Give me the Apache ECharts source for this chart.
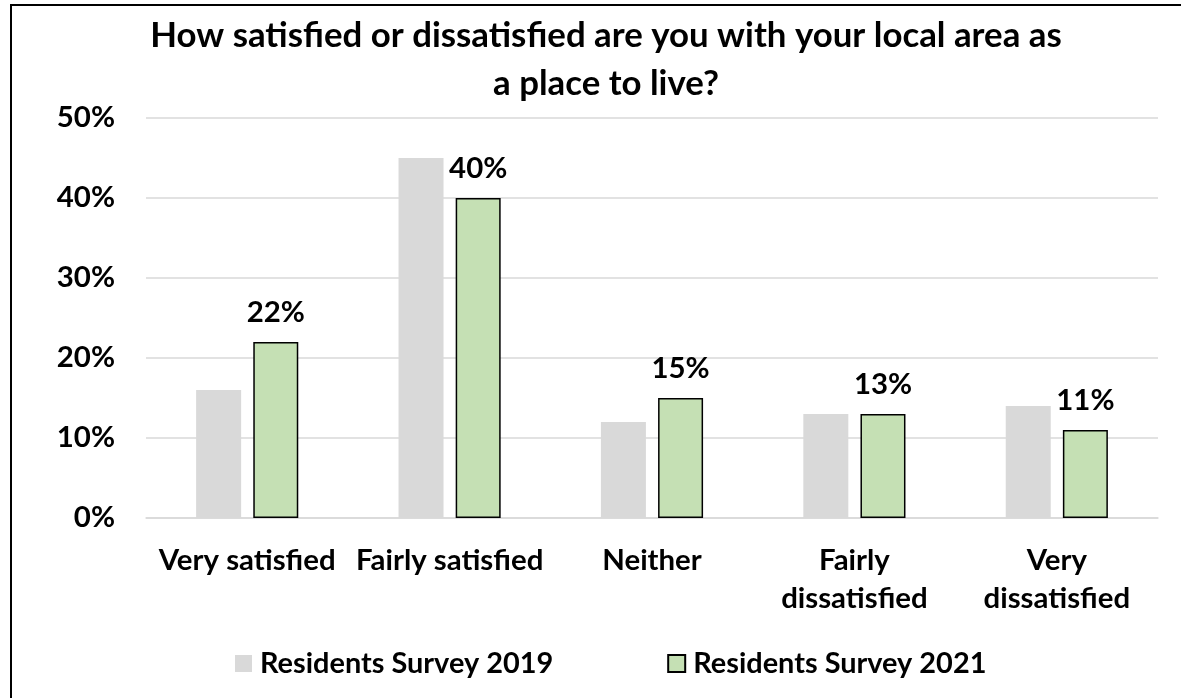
<!DOCTYPE html>
<html>
<head>
<meta charset="utf-8">
<script src="https://cdn.jsdelivr.net/npm/echarts@6/dist/echarts.min.js"></script>
<style>
html,body{margin:0;padding:0;background:#fff;}
#chart{width:1181px;height:698px;}
</style>
</head>
<body>
<div id="chart"></div>
<script>
const titleLines = ['How satisfied or dissatisfied are you with your local area as', 'a place to live?'];
const categories = ['Very satisfied', 'Fairly satisfied', 'Neither', 'Fairly\ndissatisfied', 'Very\ndissatisfied'];
const seriesNames = ['Residents Survey 2019', 'Residents Survey 2021'];
const values2019 = [16, 45, 12, 13, 14];
const values2021 = [22, 40, 15, 13, 11];
const yTicks = [0, 10, 20, 30, 40, 50];

const FONT = 'Lato';
const ctx = document.createElement('canvas').getContext('2d');
function fitSize(text, target) {
  ctx.font = 'bold 100px ' + FONT;
  return Math.round(100 * target / ctx.measureText(text).width * 10) / 10;
}
const titleSize = fitSize(titleLines[0], 912);
const axisSize = fitSize('Very satisfied', 177);
const legendSize = fitSize(seriesNames[0], 293);
const labelSize = axisSize;

const chart = echarts.init(document.getElementById('chart'));
chart.setOption({
  backgroundColor: '#ffffff',
  animation: false,
  graphic: [
    {
      type: 'rect', shape: { x: 11, y: 5, width: 3000, height: 3000 },
      style: { fill: 'none', stroke: '#000', lineWidth: 2 }, silent: true, z: 100
    },
    {
      type: 'text', x: 606, y: 12,
      style: {
        text: titleLines.join('\n'), font: 'bold ' + titleSize + 'px ' + FONT,
        fill: '#000', textAlign: 'center', textVerticalAlign: 'top', lineHeight: 48
      }
    }
  ],
  grid: { left: 146, right: 23, top: 118, bottom: 180, containLabel: false },
  legend: {
    left: 230, top: 644, itemWidth: 17, itemHeight: 17, itemGap: 114,
    textStyle: { fontFamily: FONT, fontWeight: 'bold', fontSize: legendSize, color: '#000', padding: [0, 0, 0, 3] },
    data: seriesNames.map(n => ({ name: n, icon: 'rect' }))
  },
  xAxis: {
    type: 'category', data: categories,
    axisLine: { lineStyle: { color: '#D9D9D9', width: 1.5 } },
    axisTick: { show: false },
    axisLabel: {
      interval: 0, margin: 24, color: '#000', fontFamily: FONT, fontWeight: 'bold',
      fontSize: axisSize, lineHeight: 38
    }
  },
  yAxis: {
    type: 'value', min: yTicks[0], max: yTicks[yTicks.length - 1], interval: yTicks[1] - yTicks[0],
    axisLine: { show: false }, axisTick: { show: false },
    splitLine: { lineStyle: { color: '#D9D9D9', width: 1.5 } },
    axisLabel: { formatter: '{value}%', margin: 31, color: '#000', fontFamily: FONT, fontWeight: 'bold', fontSize: axisSize }
  },
  series: [
    {
      name: seriesNames[0], type: 'bar', data: values2019, barWidth: 45, barGap: '27%',
      itemStyle: { color: '#D9D9D9' }
    },
    {
      name: seriesNames[1], type: 'bar', data: values2021, barWidth: 45,
      itemStyle: { color: '#C5E0B4', borderColor: '#000', borderWidth: 1.5 },
      label: {
        show: true, position: 'top', distance: 15, formatter: '{c}%',
        color: '#000', fontFamily: FONT, fontWeight: 'bold', fontSize: labelSize
      }
    }
  ]
});
</script>
</body>
</html>
